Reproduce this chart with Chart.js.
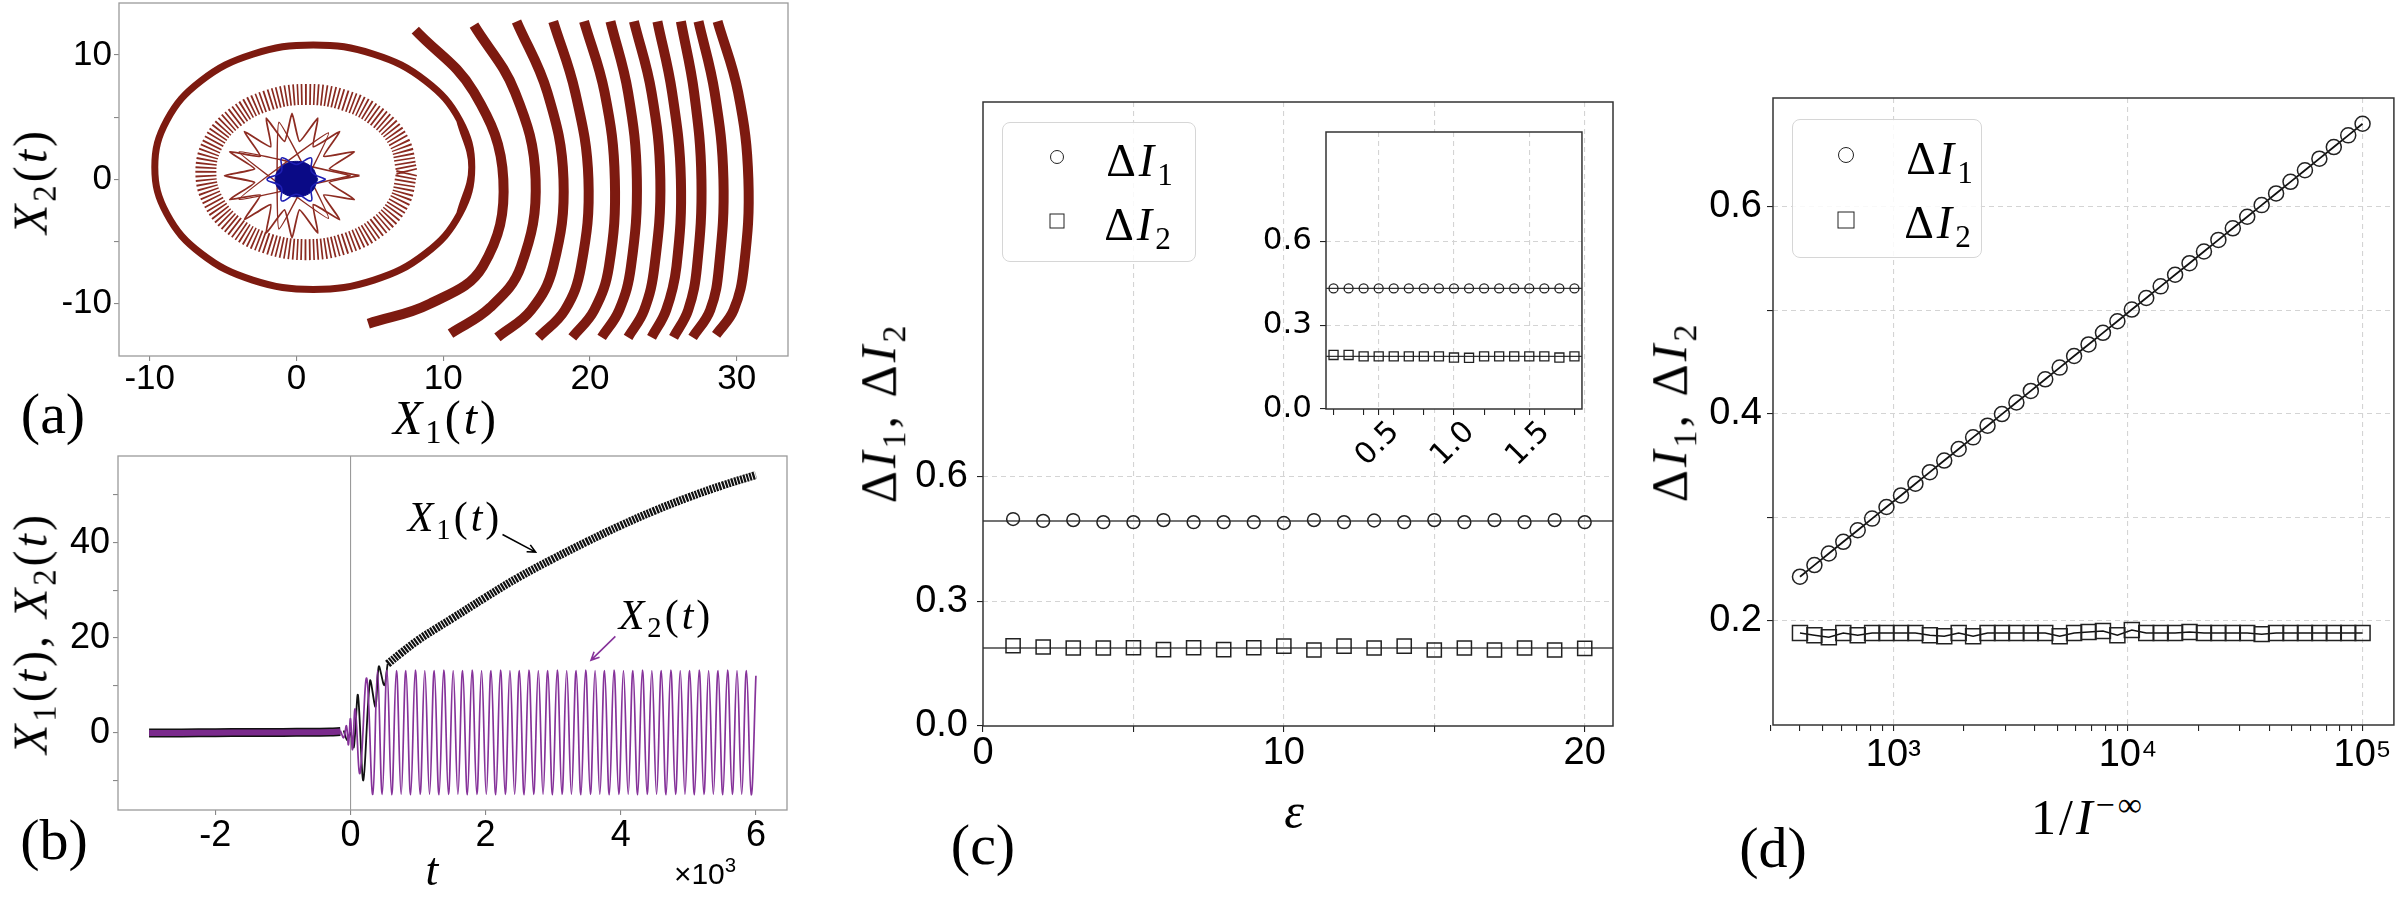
<!DOCTYPE html>
<html>
<head>
<meta charset="utf-8">
<script src="https://cdn.jsdelivr.net/npm/chart.js@4.4.0/dist/chart.umd.min.js"></script>
<style>
html, body { margin: 0; padding: 0; background: #fff; }
#fig { position: relative; width: 2406px; height: 898px; overflow: hidden; background: #fff; }
canvas { position: absolute; }
.t { position: absolute; transform: translate(-50%, -50%); white-space: nowrap; font-family: "Liberation Serif", serif; color: #000; line-height: 1; }
.rot { transform: translate(-50%, -50%) rotate(-90deg); }
.m { letter-spacing: 3px; }
.t sub { font-size: 0.68em; vertical-align: -0.28em; }
.t sup { font-size: 0.68em; vertical-align: 0.55em; }
.leg { position: absolute; border: 1.5px solid #d6d6d6; border-radius: 8px; background: rgba(255,255,255,0.85); box-sizing: border-box; }
.mk { position: absolute; border: 1.6px solid #222; box-sizing: border-box; transform: translate(-50%, -50%); }
</style>
</head>
<body>
<div id="fig">
  <canvas id="ca"></canvas>
  <canvas id="cb"></canvas>
  <canvas id="cc"></canvas>
  <canvas id="ci"></canvas>
  <canvas id="cd"></canvas>

  <!-- panel (a) -->
  <div class="t rot m" style="left:34px;top:181px;font-size:48px"><i>X</i><sub>2</sub>(<i>t</i>)</div>
  <div class="t m" style="left:446px;top:421px;font-size:48px"><i>X</i><sub>1</sub>(<i>t</i>)</div>
  <div class="t" style="left:53px;top:414px;font-size:58px">(a)</div>

  <!-- panel (b) -->
  <div class="t rot m" style="left:34px;top:633px;font-size:48px"><i>X</i><sub>1</sub>(<i>t</i>), <i>X</i><sub>2</sub>(<i>t</i>)</div>
  <div class="t" style="left:432px;top:870px;font-size:46px"><i>t</i></div>
  <div class="t" style="left:705px;top:872px;font-size:30px;font-family:'Liberation Sans',sans-serif">×10<sup>3</sup></div>
  <div class="t" style="left:54px;top:840px;font-size:58px">(b)</div>
  <div class="t m" style="left:455px;top:520px;font-size:42px"><i>X</i><sub>1</sub>(<i>t</i>)</div>
  <div class="t m" style="left:666px;top:618px;font-size:42px"><i>X</i><sub>2</sub>(<i>t</i>)</div>

  <!-- panel (c) -->
  <div class="t rot m" style="left:882px;top:413px;font-size:50px">Δ<i>I</i><sub>1</sub>, Δ<i>I</i><sub>2</sub></div>
  <div class="t" style="left:1294px;top:811px;font-size:50px"><i>ε</i></div>
  <div class="t" style="left:983px;top:845px;font-size:58px">(c)</div>
  <div class="leg" style="left:1002px;top:122px;width:194px;height:140px"></div>
  <div class="mk" style="left:1057px;top:157px;width:14px;height:14px;border-radius:50%"></div>
  <div class="mk" style="left:1057px;top:221px;width:15px;height:15px"></div>
  <div class="t m" style="left:1141px;top:164px;font-size:46px">Δ<i>I</i><sub>1</sub></div>
  <div class="t m" style="left:1139px;top:228px;font-size:46px">Δ<i>I</i><sub>2</sub></div>

  <!-- panel (d) -->
  <div class="t rot m" style="left:1673px;top:412px;font-size:50px">Δ<i>I</i><sub>1</sub>, Δ<i>I</i><sub>2</sub></div>
  <div class="t m" style="left:2088px;top:815px;font-size:50px">1/<i>I</i><sup>−∞</sup></div>
  <div class="t" style="left:1773px;top:848px;font-size:58px">(d)</div>
  <div class="leg" style="left:1792px;top:119px;width:190px;height:139px"></div>
  <div class="mk" style="left:1846px;top:155px;width:16px;height:16px;border-radius:50%"></div>
  <div class="mk" style="left:1846px;top:220px;width:17px;height:17px"></div>
  <div class="t m" style="left:1941px;top:162px;font-size:46px">Δ<i>I</i><sub>1</sub></div>
  <div class="t m" style="left:1939px;top:226px;font-size:46px">Δ<i>I</i><sub>2</sub></div>
</div>

<script>
// ---------- panel (a): phase portrait X2 vs X1 ----------
const aRingOuter = [[11.13,-2.78],[11.95,0.98],[11.13,4.74],[8.79,7.93],[5.28,10.06],[1.15,10.81],[-2.98,10.06],[-6.49,7.93],[-8.83,4.74],[-9.65,0.98],[-8.83,-2.78],[-6.49,-5.97],[-2.98,-8.10],[1.15,-8.85],[5.28,-8.10],[8.79,-5.97],[11.13,-2.78],[11.95,0.98],[11.13,4.74]];
const aRingSpiky = [[7.53,0.59],[7.01,2.98],[5.52,5.00],[3.30,6.35],[0.68,6.83],[-1.94,6.35],[-4.16,5.00],[-5.65,2.98],[-6.17,0.59],[-5.65,-1.80],[-4.16,-3.82],[-1.94,-5.17],[0.68,-5.65],[3.30,-5.17],[5.52,-3.82],[7.01,-1.80],[7.53,0.59]];
const aStar = [[4.3,0.3],[2.25,0.85],[3.95,2.22],[1.86,1.86],[2.95,3.84],[1.15,2.63],[1.46,4.92],[0.21,3.05],[-0.3,5.3],[-0.81,3.05],[-2.06,4.92],[-1.75,2.63],[-3.55,3.84],[-2.46,1.86],[-4.55,2.22],[-2.85,0.85],[-4.9,0.3],[-2.85,-0.25],[-4.55,-1.62],[-2.46,-1.26],[-3.55,-3.24],[-1.75,-2.03],[-2.06,-4.32],[-0.81,-2.45],[-0.3,-4.7],[0.21,-2.45],[1.46,-4.32],[1.15,-2.03],[2.95,-3.24],[1.86,-1.26],[3.95,-1.62],[2.25,-0.25],[4.3,0.3]];
const aStarChords = [[3.7,0.3],[-3.9,2.21],[2.19,-3.14],[-1.19,4.59],[-1.19,-3.99],[2.19,3.74],[-3.9,-1.61],[3.7,0.3]];
const aCore = [[1.45,0],[1.03,1.0],[0,1.45],[-1.03,1.0],[-1.45,0],[-1.03,-1.0],[0,-1.4],[1.03,-1.0],[1.45,0]];
const aLoops = [[2.0,0],[1.04,0.6],[1.0,1.73],[0,1.2],[-1.0,1.73],[-1.04,0.6],[-2.0,0],[-1.04,-0.6],[-1.0,-1.73],[0,-1.2],[1.0,-1.73],[1.04,-0.6],[2.0,0]];
const aArcs = [
  [[8.1,12.0],[12.1,7],[14.1,0],[12.7,-7],[9.1,-10],[4.9,-11.6]],
  [[12.1,12.4],[14.9,7],[16.3,0],[15.3,-7],[13.2,-10.3],[10.5,-12.4]],
  [[15.0,12.7],[17.1,7],[18.2,0],[17.5,-7],[16.0,-10.5],[13.7,-12.7]],
  [[17.5,12.7],[19.0,7],[19.9,0],[19.4,-7],[18.3,-10.5],[16.5,-12.7]],
  [[19.6,12.7],[21.0,7],[21.7,0],[21.3,-7],[20.3,-10.5],[18.8,-12.7]],
  [[21.4,12.7],[22.6,7],[23.2,0],[22.8,-7],[22.0,-10.5],[20.8,-12.7]],
  [[23.0,12.7],[24.2,7],[24.8,0],[24.4,-7],[23.7,-10.5],[22.6,-12.7]],
  [[24.6,12.7],[25.6,7],[26.2,0],[25.9,-7],[25.2,-10.5],[24.2,-12.7]],
  [[26.2,12.7],[27.1,7],[27.6,0],[27.3,-7],[26.7,-10.5],[25.7,-12.7]],
  [[27.4,12.7],[28.5,7],[29.1,0],[28.8,-7],[28.2,-10.5],[27.0,-12.7]],
  [[28.7,12.7],[30.1,7],[30.8,0],[30.5,-7],[29.8,-10.5],[28.6,-12.5]]
];
const aXTicks = [-10, 0, 10, 20, 30];
const aXLabels = ['-10', '0', '10', '20', '30'];
const aYTicks = [-10, -5, 0, 5, 10];
const aYLabels = ['-10', '', '0', '', '10'];

// ---------- panel (b): time series (t in units of 10^3) ----------
const bPreT = [-2.98, -2.5, -2.0, -1.5, -1.0, -0.6, -0.3, -0.15];
const bPreV = [0, 0, 0.05, 0.1, 0.1, 0.15, 0.2, 0.3];
const bX2T = [-0.15,-0.1,-0.06,-0.03,0.0,0.03,0.07,0.14,0.24,
  0.33,0.40,0.47,0.54,0.61,0.68,0.75,0.82,0.89,0.96,
  1.03,1.10,1.17,1.24,1.31,1.38,1.45,1.52,1.59,1.66,
  1.73,1.80,1.87,1.94,2.01,2.08,2.15,2.22,2.29,2.36,
  2.43,2.50,2.57,2.64,2.71,2.78,2.85,2.92,2.99,3.06,
  3.13,3.20,3.27,3.34,3.41,3.48,3.55,3.62,3.69,3.76,
  3.83,3.90,3.97,4.04,4.11,4.18,4.25,4.32,4.39,4.46,
  4.53,4.60,4.67,4.74,4.81,4.88,4.95,5.02,5.09,5.16,
  5.23,5.30,5.37,5.44,5.51,5.58,5.65,5.72,5.79,5.86,
  5.93,6.00];
const bX2V = [0.5,-1,1.5,-2.5,3,-3.5,5,-8.5,11.5,
  -12.9,13.1,-12.9,13.2,-13.0,13.1,-12.9,13.1,-13.0,13.2,
  -12.9,13.1,-12.9,13.1,-13.0,13.2,-12.9,13.1,-12.9,13.1,
  -13.0,13.2,-12.9,13.1,-12.9,13.1,-13.0,13.2,-12.9,13.1,
  -12.9,13.1,-13.0,13.2,-12.9,13.1,-12.9,13.1,-13.0,13.2,
  -12.9,13.1,-12.9,13.1,-13.0,13.2,-12.9,13.1,-12.9,13.1,
  -13.0,13.2,-12.9,13.1,-12.9,13.1,-13.0,13.2,-12.9,13.1,
  -12.9,13.1,-13.0,13.2,-12.9,13.1,-12.9,13.1,-13.0,13.2,
  -12.9,13.1,-12.9,13.1,-13.0,13.2,-12.9,13.1,-12.9,13.1,
  -13.0,12.0];
const bX1ZigT = [-0.1, -0.05, 0, 0.05, 0.11, 0.19, 0.29, 0.37, 0.42, 0.5, 0.55];
const bX1ZigV = [0.5, -1.5, 0, -3, 8, -10, 11, 5.5, 14, 10, 14.5];
const bX1T = [0.55, 0.75, 1.0, 1.25, 1.5, 2.0, 2.5, 3.0, 3.5, 4.0, 4.5, 5.0, 5.5, 6.0];
const bX1V = [14.5, 16.8, 19.5, 21.8, 24, 28.5, 32.8, 36.6, 40.2, 43.6, 46.7, 49.5, 52, 54.2];
const bArrowFrom = [[2.25, 41.7], [3.92, 20.3]];
const bArrowTo = [[2.74, 38.0], [3.56, 15.3]];
const bArrowColor = ['#000', '#86339a'];
const bXTicks = [-2, 0, 2, 4, 6];
const bXLabels = ['-2', '0', '2', '4', '6'];
const bYTicks = [-10, 0, 10, 20, 30, 40, 50];
const bYLabels = ['', '0', '', '20', '', '40', ''];

// ---------- panel (c): ΔI vs ε ----------
const cEps = [1,2,3,4,5,6,7,8,9,10,11,12,13,14,15,16,17,18,19,20];
const cDI1 = [0.4975,0.493,0.495,0.490,0.490,0.495,0.490,0.490,0.490,0.488,0.495,0.490,0.494,0.490,0.495,0.490,0.495,0.490,0.495,0.490];
const cDI2 = [0.193,0.190,0.1875,0.1875,0.188,0.1836,0.188,0.1836,0.188,0.192,0.1826,0.192,0.1875,0.192,0.1826,0.1875,0.1826,0.1875,0.1826,0.1865];
const cRef = [0.493, 0.1875];
const cXTicks = [0, 5, 10, 15, 20];
const cXLabels = ['0', '', '10', '', '20'];
const cYTicks = [0, 0.3, 0.6];
const cYLabels = ['0.0', '0.3', '0.6'];

// inset of (c)
const iEps = [0.2,0.3,0.4,0.5,0.6,0.7,0.8,0.9,1.0,1.1,1.2,1.3,1.4,1.5,1.6,1.7,1.8];
const iDI1 = [0.431,0.431,0.431,0.431,0.431,0.431,0.431,0.431,0.431,0.431,0.431,0.431,0.431,0.431,0.431,0.431,0.431];
const iDI2 = [0.193,0.193,0.188,0.188,0.188,0.188,0.188,0.188,0.184,0.183,0.188,0.188,0.188,0.188,0.188,0.184,0.188];
const iRef = [0.431, 0.188];
const iXTicks = [0.2, 0.4, 0.5, 0.6, 0.8, 1.0, 1.2, 1.4, 1.5, 1.6, 1.8];
const iXLabels = ['', '', '0.5', '', '', '1.0', '', '', '1.5', '', ''];
const iYTicks = [0, 0.3, 0.6];
const iYLabels = ['0.0', '0.3', '0.6'];

// ---------- panel (d): ΔI vs 1/I^-inf ----------
const dX = [400,461,531,612,705,812,935,1078,1242,1431,1648,1899,2188,2521,2904,3346,3855,4441,5117,5895,6792,7825,9015,10387,11967,13787,15884,18300,21084,24291,27986,32243,37148,42798,49308,56808,65449,75405,86875,100000];
const dDI1 = [0.2425,0.2537,0.2649,0.2762,0.2874,0.2986,0.3098,0.3210,0.3323,0.3435,0.3547,0.3659,0.3771,0.3884,0.3996,0.4108,0.4220,0.4332,0.4445,0.4557,0.4669,0.4781,0.4893,0.5006,0.5118,0.5230,0.5342,0.5454,0.5567,0.5679,0.5791,0.5903,0.6015,0.6128,0.6240,0.6352,0.6464,0.6576,0.6689,0.6801];
const dDI2 = [0.188,0.186,0.184,0.188,0.186,0.188,0.188,0.188,0.188,0.186,0.185,0.188,0.185,0.188,0.188,0.188,0.188,0.188,0.185,0.188,0.189,0.190,0.186,0.191,0.188,0.188,0.188,0.189,0.188,0.188,0.188,0.188,0.187,0.188,0.188,0.188,0.188,0.188,0.188,0.188];
const dXTicks = [300,400,500,600,700,800,900,1000,2000,3000,4000,5000,6000,7000,8000,9000,10000,20000,30000,40000,50000,60000,70000,80000,90000,100000];
const dXMajor = {1000: '10³', 10000: '10⁴', 100000: '10⁵'};
const dYTicks = [0.2, 0.3, 0.4, 0.5, 0.6];
const dYLabels = ['0.2', '', '0.4', '', '0.6'];

// ---------- helpers ----------
const SANS = '"Liberation Sans", Arial, sans-serif';
const pts = (xs, ys) => xs.map((x, i) => ({x: x, y: ys[i]}));
const pairs = arr => arr.map(p => ({x: p[0], y: p[1]}));

function curve(data, color, width, extra) {
  return Object.assign({data: data, showLine: true, borderColor: color, borderWidth: width,
    pointRadius: 0, tension: 0.4, fill: false}, extra || {});
}

function markers(data, style, r, extra) {
  return Object.assign({data: data, showLine: false, pointStyle: style, pointRadius: r,
    pointBorderColor: '#222', pointBackgroundColor: 'rgba(0,0,0,0)', pointBorderWidth: 1.5}, extra || {});
}

function scale(o) {
  return {
    type: o.type || 'linear', min: o.min, max: o.max, bounds: 'data',
    afterBuildTicks: s => { s.ticks = o.ticks.map(v => ({value: v})); },
    ticks: {autoSkip: false, maxRotation: o.rot || 0, minRotation: o.rot || 0, padding: o.pad,
      labelOffset: o.off || 0, color: '#000', font: {family: o.font || SANS, size: o.fs, lineHeight: 1},
      callback: (v, i) => o.labels(v, i)},
    grid: {drawOnChartArea: !!o.grid, tickColor: o.tc, tickLength: o.tl || 6, lineWidth: 1.1,
      color: c => (o.grid && c.tick ? o.grid(c.tick.value) : null) || 'rgba(0,0,0,0)'},
    border: {display: false, dash: o.dash || []}
  };
}

function framePlugin(color, width, white) {
  return {
    id: 'frame',
    beforeDraw(chart) {
      if (!white) return;
      const a = chart.chartArea, ctx = chart.ctx;
      ctx.save(); ctx.fillStyle = '#fff';
      ctx.fillRect(a.left, a.top, a.right - a.left, a.bottom - a.top); ctx.restore();
    },
    afterDatasetsDraw(chart) {
      const a = chart.chartArea, ctx = chart.ctx;
      ctx.save(); ctx.strokeStyle = color; ctx.lineWidth = width;
      ctx.strokeRect(a.left, a.top, a.right - a.left, a.bottom - a.top); ctx.restore();
    }
  };
}

function build(id, f, m, datasets, xs, ys, plugins) {
  const c = document.getElementById(id);
  const w = Math.round(f.r - f.l + m.l + m.r), h = Math.round(f.b - f.t + m.t + m.b);
  c.width = w; c.height = h;
  c.style.left = (f.l - m.l) + 'px'; c.style.top = (f.t - m.t) + 'px';
  c.style.width = w + 'px'; c.style.height = h + 'px';
  xs.afterFit = s => { s.height = m.b; };
  ys.afterFit = s => { s.width = m.l; };
  return new Chart(c, {
    type: 'scatter',
    data: {datasets: datasets},
    options: {
      responsive: false, animation: false, devicePixelRatio: 1,
      layout: {padding: {top: m.t, right: m.r, left: 0, bottom: 0}},
      plugins: {legend: {display: false}, tooltip: {enabled: false}},
      scales: {x: xs, y: ys}
    },
    plugins: plugins
  });
}

// ---------- (a) ----------
const RED = '#7d1a10';
const aSets = [
  curve(pairs(aLoops), '#1f1fb4', 1.6, {order: 0}),
  curve(pairs(aCore), '#0a0a86', 1, {order: 1, fill: 'shape', backgroundColor: '#0a0a86'}),
  curve(pairs(aStarChords), '#8d2c22', 1.5, {order: 2, tension: 0.1}),
  curve(pairs(aStar), '#8d2c22', 1.8, {order: 3, tension: 0.15}),
  curve(pairs(aRingSpiky), '#8a2a20', 21, {order: 4, borderDash: [1.7, 2.3]}),
  curve(pairs(aRingOuter), RED, 7, {order: 5})
].concat(aArcs.map(arc => curve(pairs(arc), RED, 10, {order: 6})));

build('ca', {l: 118.7, t: 2.7, r: 787.9, b: 355.7}, {l: 110, t: 40, r: 12, b: 50}, aSets,
  scale({min: -12.09, max: 33.5, ticks: aXTicks, labels: (v, i) => aXLabels[i], fs: 35, pad: 1, tc: '#888', tl: 5}),
  scale({min: -14.2, max: 14.18, ticks: aYTicks, labels: (v, i) => aYLabels[i], fs: 35, pad: 2, tc: '#888', tl: 5}),
  [framePlugin('#9a9a9a', 1.3, false)]);

// ---------- (b) ----------
const arrowPlugin = {
  id: 'arrows',
  afterDatasetsDraw(chart) {
    const ctx = chart.ctx, sx = chart.scales.x, sy = chart.scales.y;
    bArrowFrom.forEach((p, i) => {
      const x0 = sx.getPixelForValue(p[0]), y0 = sy.getPixelForValue(p[1]);
      const x1 = sx.getPixelForValue(bArrowTo[i][0]), y1 = sy.getPixelForValue(bArrowTo[i][1]);
      const ang = Math.atan2(y1 - y0, x1 - x0), hl = 9;
      ctx.save(); ctx.strokeStyle = bArrowColor[i]; ctx.lineWidth = 1.6;
      ctx.beginPath(); ctx.moveTo(x0, y0); ctx.lineTo(x1, y1);
      ctx.moveTo(x1 - hl * Math.cos(ang - 0.45), y1 - hl * Math.sin(ang - 0.45));
      ctx.lineTo(x1, y1);
      ctx.lineTo(x1 - hl * Math.cos(ang + 0.45), y1 - hl * Math.sin(ang + 0.45));
      ctx.stroke(); ctx.restore();
    });
  }
};
const PURPLE = '#86339a';
const bSets = [
  curve(pts(bPreT, bPreV), '#7a2a8c', 6, {order: 0, tension: 0.3}),
  curve(pts(bPreT, bPreV), '#111', 9, {order: 3, tension: 0.3}),
  curve(pts(bX2T, bX2V), PURPLE, 1.7, {order: 1}),
  curve(pts(bX1ZigT, bX1ZigV), '#111', 1.8, {order: 2, tension: 0.3}),
  curve(pts(bX1T, bX1V), '#111', 8, {order: 2, borderDash: [2.2, 1.0]})
];
build('cb', {l: 117.8, t: 455.7, r: 787.2, b: 810}, {l: 110, t: 40, r: 12, b: 55}, bSets,
  scale({min: -3.44, max: 6.46, ticks: bXTicks, labels: (v, i) => bXLabels[i], fs: 36, pad: 3, tc: '#888', tl: 5,
    grid: v => v === 0 ? '#9a9a9a' : null}),
  scale({min: -16.2, max: 58.2, ticks: bYTicks, labels: (v, i) => bYLabels[i], fs: 36, pad: 3, tc: '#888', tl: 5}),
  [framePlugin('#9a9a9a', 1.3, false), arrowPlugin]);

// ---------- (c) ----------
const GRID = '#d4d4d4';
const cSets = [
  markers(pts(cEps, cDI1), 'circle', 6.4, {order: 0}),
  markers(pts(cEps, cDI2), 'rect', 10, {order: 1}),
  curve(pts([0, 20.94], [cRef[0], cRef[0]]), '#444', 1.5, {order: 2, tension: 0}),
  curve(pts([0, 20.94], [cRef[1], cRef[1]]), '#444', 1.5, {order: 3, tension: 0})
];
build('cc', {l: 983, t: 101.5, r: 1613.3, b: 725.5}, {l: 95, t: 40, r: 12, b: 55}, cSets,
  scale({min: 0, max: 20.94, ticks: cXTicks, labels: (v, i) => cXLabels[i], fs: 38, pad: 3, tc: '#222',
    grid: v => v > 0 ? GRID : null, dash: [5, 4]}),
  scale({min: 0, max: 1.5, ticks: cYTicks, labels: (v, i) => cYLabels[i], fs: 38, pad: 9, tc: '#222',
    grid: v => v > 0 ? GRID : null, dash: [5, 4]}),
  [framePlugin('#333', 1.5, false)]);

const iSets = [
  markers(pts(iEps, iDI1), 'circle', 4.5, {order: 0, pointBorderWidth: 1.3}),
  markers(pts(iEps, iDI2), 'rect', 6.4, {order: 1, pointBorderWidth: 1.3}),
  curve(pts([0.15, 1.85], [iRef[0], iRef[0]]), '#333', 1.4, {order: 2, tension: 0}),
  curve(pts([0.15, 1.85], [iRef[1], iRef[1]]), '#333', 1.4, {order: 3, tension: 0})
];
build('ci', {l: 1326, t: 131.7, r: 1586, b: 408.3}, {l: 70, t: 40, r: 12, b: 80}, iSets,
  scale({min: 0.15, max: 1.85, ticks: iXTicks, labels: (v, i) => iXLabels[i], fs: 30, pad: 2, tc: '#222',
    rot: 45, off: 16, font: '"DejaVu Sans", sans-serif',
    grid: v => (Math.abs(v - 0.5) < 1e-6 || Math.abs(v - 1) < 1e-6 || Math.abs(v - 1.5) < 1e-6) ? GRID : null, dash: [5, 4]}),
  scale({min: 0, max: 0.99, ticks: iYTicks, labels: (v, i) => iYLabels[i], fs: 31, pad: 8, tc: '#222',
    font: '"DejaVu Sans", sans-serif', grid: v => v > 0 ? GRID : null, dash: [5, 4]}),
  [framePlugin('#333', 1.5, true)]);

// ---------- (d) ----------
const dSets = [
  curve(pts(dX, dDI1), '#111', 1.8, {order: 0, tension: 0, pointStyle: 'circle', pointRadius: 7.5,
    pointBorderColor: '#222', pointBackgroundColor: 'rgba(0,0,0,0)', pointBorderWidth: 1.5}),
  curve(pts(dX, dDI2), '#111', 1.5, {order: 1, tension: 0, pointStyle: 'rect', pointRadius: 10.6,
    pointBorderColor: '#222', pointBackgroundColor: 'rgba(0,0,0,0)', pointBorderWidth: 1.5})
];
build('cd', {l: 1772.7, t: 98.3, r: 2394.8, b: 725}, {l: 85, t: 40, r: 11, b: 55}, dSets,
  scale({type: 'logarithmic', min: 307, max: 136000, ticks: dXTicks, labels: v => dXMajor[v] || '', fs: 38, pad: 6, tc: '#222',
    grid: v => dXMajor[v] ? GRID : null, dash: [5, 4]}),
  scale({min: 0.0992, max: 0.705, ticks: dYTicks, labels: (v, i) => dYLabels[i], fs: 38, pad: 5, tc: '#222',
    grid: () => GRID, dash: [5, 4]}),
  [framePlugin('#333', 1.5, false)]);
</script>
</body>
</html>
